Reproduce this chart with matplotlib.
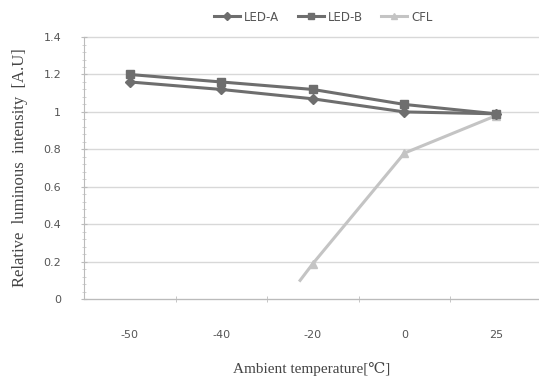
import matplotlib
matplotlib.use("Agg")
import matplotlib.pyplot as plt
from matplotlib.ticker import MultipleLocator, FixedLocator

temps = ["-50", "-40", "-20", "0", "25"]
led_a = [1.16, 1.12, 1.07, 1.00, 0.99]
led_b = [1.20, 1.16, 1.12, 1.04, 0.99]
# CFL: leading tail point sits just left of the -20 category
cfl_x = [1.86, 2, 3, 4]
cfl = [0.10, 0.19, 0.78, 0.98]
y_ticks = [0, 0.2, 0.4, 0.6, 0.8, 1.0, 1.2, 1.4]
y_labels = ["0", "0.2", "0.4", "0.6", "0.8", "1", "1.2", "1.4"]

fig = plt.figure(figsize=(5.39, 3.82), dpi=100)
ax = fig.add_axes([0.156, 0.217, 0.844, 0.686])

x = list(range(len(temps)))
dark = "#6e6e6e"
light = "#c4c4c4"

ax.plot(x, led_a, color=dark, lw=2.2, marker="D", ms=5, label="LED-A", zorder=3)
ax.plot(x, led_b, color=dark, lw=2.2, marker="s", ms=6, label="LED-B", zorder=3)
ax.plot(cfl_x, cfl, color=light, lw=2.2, marker="^", ms=6, markevery=[1, 2, 3],
        label="CFL", zorder=2)

ax.set_xlim(-0.5, 4.47)
ax.set_ylim(0, 1.4)
ax.set_yticks(y_ticks)
ax.set_yticklabels(y_labels)
ax.yaxis.set_minor_locator(MultipleLocator(0.04))
ax.set_xticks(x)
ax.set_xticklabels(temps)
ax.xaxis.set_minor_locator(FixedLocator([0.5, 1.5, 2.5, 3.5]))

ax.grid(axis="y", color="#d8d8d8", lw=1, clip_on=False)
ax.set_axisbelow(True)
for s in ["top", "right"]:
    ax.spines[s].set_visible(False)
ax.spines["left"].set_color("#bbbbbb")
ax.spines["bottom"].set_color("#bbbbbb")

ax.tick_params(axis="x", which="major", length=0, pad=22, labelsize=8, labelcolor="#555555")
ax.tick_params(axis="x", which="minor", length=4, color="#bbbbbb", direction="inout")
ax.tick_params(axis="y", which="major", length=5, color="#bbbbbb", direction="inout",
               pad=14, labelsize=8, labelcolor="#555555")
ax.tick_params(axis="y", which="minor", length=3, color="#cccccc", direction="inout")

serif = ["Liberation Serif", "DejaVu Serif"]
ax.set_xlabel("Ambient temperature[℃]", family=serif, fontsize=11, color="#444444", labelpad=16)
ax.set_ylabel("Relative  luminous  intensity  [A.U]", family=serif, fontsize=12,
              color="#444444", labelpad=11)

fig.legend(loc="upper center", bbox_to_anchor=(0.6, 1.0), ncol=3, frameon=False,
           fontsize=8.5, handlelength=2.2, columnspacing=1.6, handletextpad=0.3,
           labelcolor="#555555", markerscale=0.8)

fig.savefig("out.png", dpi=100)
